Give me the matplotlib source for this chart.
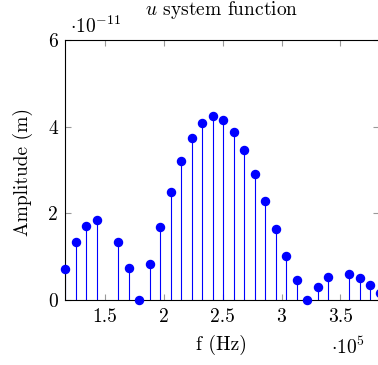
import matplotlib
matplotlib.use("Agg")
import matplotlib.pyplot as plt
from matplotlib.ticker import FuncFormatter

plt.rcParams["font.family"] = "serif"
plt.rcParams["font.serif"] = ["cmr10"]
plt.rcParams["mathtext.fontset"] = "cm"
plt.rcParams["axes.unicode_minus"] = False
plt.rcParams["axes.formatter.use_mathtext"] = True

# frequency bins (x 1e5 Hz) and amplitude spectrum (x 1e-11 m)
freq_e5 = [1.160, 1.250, 1.340, 1.430, 1.613, 1.700, 1.789, 1.879, 1.969,
           2.057, 2.148, 2.235, 2.326, 2.415, 2.504, 2.592, 2.683, 2.773,
           2.863, 2.954, 3.042, 3.130, 3.220, 3.308, 3.398, 3.576, 3.665,
           3.755, 3.837]
amp_e11 = [0.72, 1.33, 1.71, 1.85, 1.34, 0.75, 0.00, 0.82, 1.68,
           2.49, 3.21, 3.75, 4.09, 4.25, 4.15, 3.88, 3.47, 2.90,
           2.28, 1.64, 1.01, 0.46, 0.01, 0.31, 0.52, 0.59, 0.50,
           0.35, 0.17]

x_ticks = [1.5, 2.0, 2.5, 3.0, 3.5]
y_ticks = [0, 2, 4, 6]

FS = 14
fig = plt.figure(figsize=(3.78, 3.65), dpi=100)
ax = fig.add_axes([65 / 378, 65 / 365, 313.5 / 378, 260 / 365])

blue = "#0000ff"
ax.vlines(freq_e5, 0, amp_e11, colors=blue, linewidth=0.8, zorder=2)
ax.plot(freq_e5, amp_e11, "o", color=blue, markersize=5.8,
        clip_on=False, zorder=3)

ax.set_xlim(1.16, 3.824)
ax.set_ylim(0, 6)
ax.set_xticks(x_ticks)
ax.set_yticks(y_ticks)
ax.xaxis.set_major_formatter(FuncFormatter(lambda v, p: "%g" % v))
ax.yaxis.set_major_formatter(FuncFormatter(lambda v, p: "%g" % v))
ax.tick_params(direction="in", length=4.5, width=0.8, color="#999999",
               top=True, right=True, labelsize=FS)
ax.tick_params(axis="x", pad=6)
ax.tick_params(axis="y", pad=5)
for s in ax.spines.values():
    s.set_linewidth(0.8)

# labels placed in pixel offsets from the axes frame
ax.annotate("f (Hz)", xy=(0.5, 0), xycoords="axes fraction",
            xytext=(0, -50), textcoords="offset pixels",
            ha="center", va="baseline", fontsize=FS)
fig.text(23 / 378, 1 - 171.5 / 365, "Amplitude (m)", rotation=90,
         ha="center", va="center", fontsize=FS)
ax.annotate(r"$u$ system function", xy=(0.5, 1), xycoords="axes fraction",
            xytext=(0, 25), textcoords="offset pixels",
            ha="center", va="baseline", fontsize=FS)
ax.annotate(r"$\cdot 10^{-11}$", xy=(0, 1), xycoords="axes fraction",
            xytext=(5, 7), textcoords="offset pixels",
            ha="left", va="baseline", fontsize=FS)
ax.annotate(r"$\cdot 10^{5}$", xy=(0.957, 0), xycoords="axes fraction",
            xytext=(0, -54), textcoords="offset pixels",
            ha="right", va="baseline", fontsize=FS)

fig.savefig("out.png", dpi=100)
